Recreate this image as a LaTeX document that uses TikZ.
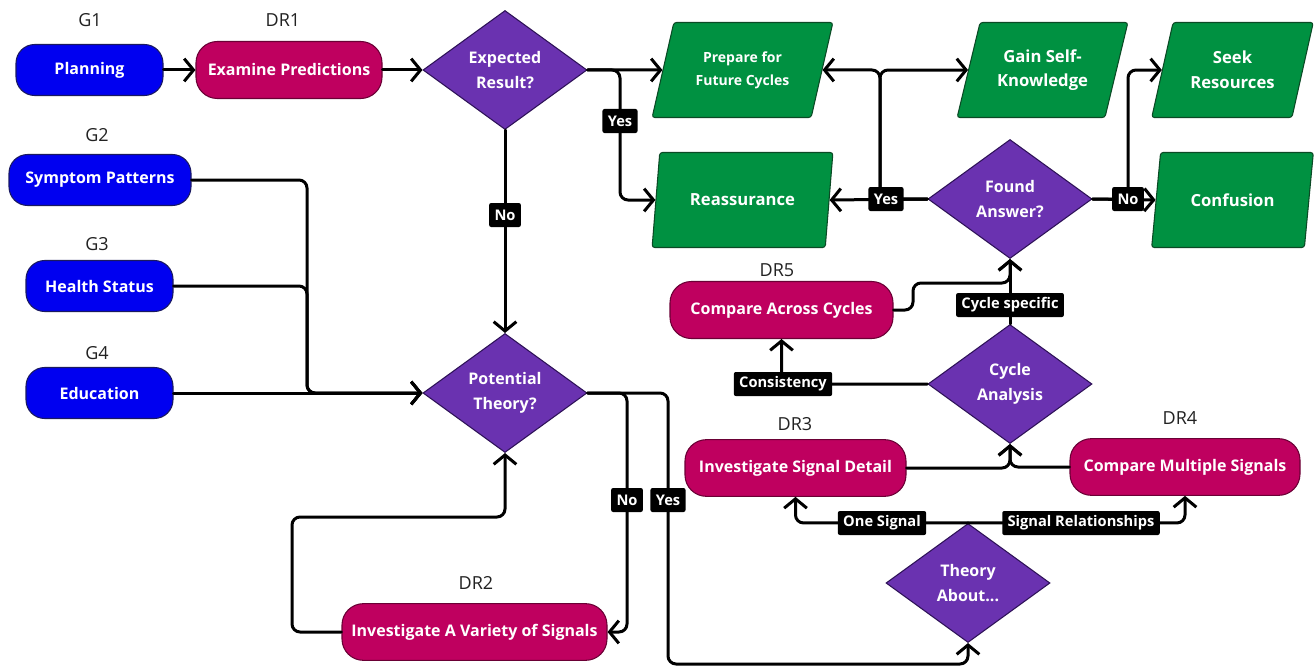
\documentclass[tikz,border=0pt]{standalone}
\usepackage{fontspec}
\setmainfont{Open Sans}
\usetikzlibrary{shapes.geometric,arrows.meta}
\definecolor{gblue}{HTML}{0000F0}
\definecolor{gblueb}{HTML}{1A1A60}
\definecolor{mag}{HTML}{BF005F}
\definecolor{magb}{HTML}{6A0035}
\definecolor{purp}{HTML}{6A32B0}
\definecolor{purpb}{HTML}{2E1258}
\definecolor{grn}{HTML}{009141}
\definecolor{grnb}{HTML}{0B4A25}
\definecolor{ttlc}{HTML}{222222}
\begin{document}
\begin{tikzpicture}[x=0.75pt,y=-0.75pt,
  boxbase/.style={rounded corners=14pt, line width=0.8pt, text=white, inner sep=0pt,
    font=\bfseries\fontsize{12}{14}\selectfont, minimum height=38.25pt},
  gbox/.style={boxbase, fill=gblue, draw=gblueb},
  mbox/.style={boxbase, fill=mag, draw=magb, minimum height=42.5pt, rounded corners=16pt},
  dia/.style={diamond, aspect=1.38, minimum width=123pt, minimum height=89.25pt, inner sep=0pt,
    fill=purp, draw=purpb, line width=0.8pt, text=white, align=center,
    font=\bfseries\fontsize{12}{19}\selectfont},
  para/.style={trapezium, trapezium left angle=68, trapezium right angle=112, trapezium stretches=true,
    minimum height=71.25pt, inner sep=0pt, fill=grn, draw=grnb, line width=0.8pt, rounded corners=2pt,
    text=white, align=center, font=\bfseries\fontsize{12.5}{18.5}\selectfont},
  lab/.style={fill=black, text=white, rounded corners=1.5pt, inner xsep=4pt, inner ysep=3pt, minimum height=18pt,
    font=\bfseries\fontsize{11}{13}\selectfont},
  ttl/.style={text=ttlc, font=\fontsize{13.5}{16}\selectfont},
  arr/.style={line width=2.25pt, line cap=round, line join=round, rounded corners=6pt,
    -{Straight Barb[length=7pt,width=17pt,line width=2.25pt]}}
]
\useasboundingbox (0,0) rectangle (1314,667);

% titles
\node[ttl] (tg1) at (90,20) {G1};
\node[ttl] (tdr1) at (283,20) {DR1};
\node[ttl] (tg2) at (97,135) {G2};
\node[ttl] (tg3) at (97,244) {G3};
\node[ttl] (tg4) at (97,353) {G4};
\node[ttl] (tdr2) at (476,583) {DR2};
\node[ttl] (tdr5) at (777,270) {DR5};
\node[ttl] (tdr3) at (795,424) {DR3};
\node[ttl] (tdr4) at (1180,418) {DR4};

% nodes
\node[gbox, minimum width=110.25pt] (plan) at (89.5,70) {Planning};
\node[gbox, minimum width=136.5pt] (symp) at (100,180) {Symptom Patterns};
\node[gbox, minimum width=110.25pt] (heal) at (99.5,286) {Health Status};
\node[gbox, minimum width=110.25pt] (edu) at (99.5,393) {Education};
\node[mbox, minimum width=139.5pt, minimum height=42.75pt] (dr1) at (289,70) {Examine Predictions};
\node[mbox, minimum width=198.75pt] (dr2) at (474.5,632) {Investigate A Variety of Signals};
\node[mbox, minimum width=167.25pt, minimum height=42.75pt] (dr5) at (781.5,310) {Compare Across Cycles};
\node[mbox, minimum width=165.75pt] (dr3) at (795.5,468) {Investigate Signal Detail};
\node[mbox, minimum width=172.5pt] (dr4) at (1185,467) {Compare Multiple Signals};

\node[dia] (exp) at (505,70) {Expected\\Result?};
\node[dia] (pot) at (505,393) {Potential\\Theory?};
\node[dia] (found) at (1010,199) {Found\\Answer?};
\node[dia] (cyc) at (1010,384) {Cycle\\Analysis};
\node[dia] (theo) at (968,583) {Theory\\About...};

\node[para, minimum width=135.75pt, font=\bfseries\fontsize{10.5}{17}\selectfont] (prep) at (742.5,70) {Prepare for\\Future Cycles};
\node[para, minimum width=135.75pt] (reas) at (742.5,200) {Reassurance};
\node[para, minimum width=128.25pt] (gain) at (1042.5,70) {Gain Self-\\Knowledge};
\node[para, minimum width=121.5pt] (seek) at (1232.5,70) {Seek\\Resources};
\node[para, minimum width=121.5pt] (conf) at (1232.5,200) {Confusion};

% connectors
\draw[arr] (plan) -- (dr1);
\draw[arr] (dr1) -- (exp);
\draw[arr] (exp.east) -- (prep.west);
\draw[arr] (exp.east) -- (620,70) |- (reas.west);
\draw[arr] (exp.south) -- (pot.north);
\draw[arr] (symp.east) -- (307,180) |- (pot.west);
\draw[arr] (heal.east) -- (307,286) |- (pot.west);
\draw[arr] (edu.east) -- (pot.west);
\draw[arr] (pot.east) -- (627,393) |- (dr2.east);
\draw[arr] (pot.east) -- (668,393) -- (668,664) -| (theo.south);
\draw[arr] (dr2.west) -- (292,632) -- (292,517) -| (pot.south);
\draw[arr] (theo.north) -| (dr3.south);
\draw[arr] (theo.north) -| (dr4.south);
\draw[arr] (dr3.east) -| (cyc.south);
\draw[arr] (dr4.west) -| (cyc.south);
\draw[arr] (cyc.west) -| (dr5.south);
\draw[arr] (cyc.north) -- (found.south);
\draw[arr] (dr5.east) -- (913,310) -- (913,283) -- (1010,283) -- (found.south);
\draw[arr] (found.west) -- (reas.east);
\draw[arr] (found.west) -- (880,199) |- (prep.east);
\draw[arr] (found.west) -- (880,199) |- (gain.west);
\draw[arr] (found.east) -- (conf.west);
\draw[arr] (found.east) -- (1128,199) |- (seek.west);

% connector labels
\node[lab] (l1) at (620,121) {Yes};
\node[lab] (l2) at (505,215) {No};
\node[lab] (l3) at (886,199) {Yes};
\node[lab] (l4) at (1128,199) {No};
\node[lab] (l5) at (1010,305) {Cycle specific};
\node[lab] (l6) at (783,384) {Consistency};
\node[lab] (l7) at (882,523) {One Signal};
\node[lab] (l8) at (1081,523) {Signal Relationships};
\node[lab] (l9) at (627,500) {No};
\node[lab] (l10) at (668,500) {Yes};
\end{tikzpicture}
\end{document}
